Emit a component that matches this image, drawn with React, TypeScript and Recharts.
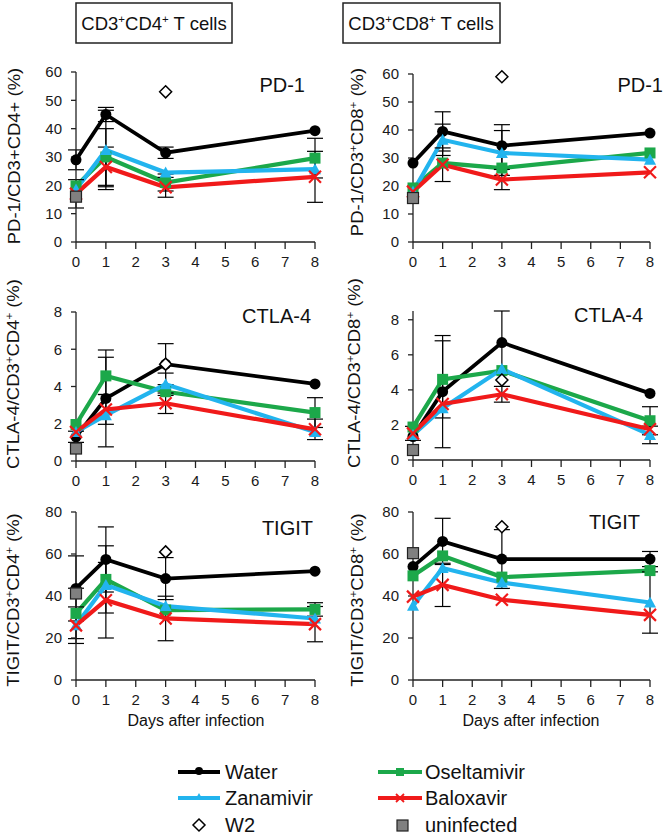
import React from 'react';
import { LineChart, Line, XAxis, YAxis, ErrorBar } from 'recharts';

const FONT = '"Liberation Sans", Arial, sans-serif';

const DAYS = [0, 1, 3, 8];
const DAY_TICKS = [0, 1, 2, 3, 4, 5, 6, 7, 8];

// PD-1 / CD4
const pd1Cd4Water = [29, 45, 31.5, 39.3];
const pd1Cd4WaterSd = [3.5, 2.5, 2, 0];
const pd1Cd4Osel = [19.8, 30, 21, 29.6];
const pd1Cd4OselSd = [0, 10, 3, 7];
const pd1Cd4Zana = [18.5, 32.5, 24.5, 25.7];
const pd1Cd4ZanaSd = [0, 14, 0, 0];
const pd1Cd4Balo = [17, 26.5, 19.3, 23];
const pd1Cd4BaloSd = [5, 7, 3.5, 9];
const pd1Cd4W2 = 53;
const pd1Cd4Uninf = 16;

// PD-1 / CD8
const pd1Cd8Water = [28.2, 39.5, 34.4, 38.9];
const pd1Cd8WaterSd = [0, 7, 7.5, 0];
const pd1Cd8Osel = [19.3, 28.2, 26.4, 31.8];
const pd1Cd8OselSd = [0, 0, 0, 0];
const pd1Cd8Zana = [18, 36.5, 31.8, 29.4];
const pd1Cd8ZanaSd = [0, 5.6, 8, 0];
const pd1Cd8Balo = [18, 27.6, 22.3, 24.9];
const pd1Cd8BaloSd = [0, 6, 3.6, 0];
const pd1Cd8W2 = 59;
const pd1Cd8Uninf = 15.7;

// CTLA-4 / CD4
const ctla4Cd4Water = [1.3, 3.36, 5.2, 4.14];
const ctla4Cd4WaterSd = [0.3, 2.6, 1.1, 0];
const ctla4Cd4Osel = [1.96, 4.57, 3.72, 2.6];
const ctla4Cd4OselSd = [0, 1.0, 0, 0.8];
const ctla4Cd4Zana = [1.56, 2.46, 4.12, 1.56];
const ctla4Cd4ZanaSd = [0, 0, 0.6, 0];
const ctla4Cd4Balo = [1.56, 2.77, 3.1, 1.7];
const ctla4Cd4BaloSd = [0, 0.8, 0.55, 0.55];
const ctla4Cd4W2 = 5.2;
const ctla4Cd4Uninf = 0.67;

// CTLA-4 / CD8
const ctla4Cd8Water = [1.34, 3.9, 6.7, 3.8];
const ctla4Cd8WaterSd = [0, 3.2, 1.8, 0];
const ctla4Cd8Osel = [1.88, 4.6, 5.1, 2.24];
const ctla4Cd8OselSd = [0, 2.2, 0, 0.8];
const ctla4Cd8Zana = [1.43, 2.95, 5.19, 1.43];
const ctla4Cd8ZanaSd = [0, 0, 0, 0.5];
const ctla4Cd8Balo = [1.52, 3.2, 3.75, 1.75];
const ctla4Cd8BaloSd = [0.4, 0, 0.45, 0];
const ctla4Cd8W2 = 4.56;
const ctla4Cd8Uninf = 0.57;

// TIGIT / CD4
const tigitCd4Water = [43.6, 57.4, 48.3, 51.8];
const tigitCd4WaterSd = [15.5, 15.5, 10, 0];
const tigitCd4Osel = [31.7, 47.9, 33.3, 33.6];
const tigitCd4OselSd = [12, 16, 0, 3.2];
const tigitCd4Zana = [26.1, 45.2, 35.2, 29.3];
const tigitCd4ZanaSd = [8.7, 0, 0, 0];
const tigitCd4Balo = [26, 38, 29.3, 26.6];
const tigitCd4BaloSd = [0, 18, 10.6, 8.4];
const tigitCd4W2 = 61;
const tigitCd4Uninf = 41.2;

// TIGIT / CD8
const tigitCd8Water = [54, 66, 57.6, 57.6];
const tigitCd8WaterSd = [0, 11, 14, 3.6];
const tigitCd8Osel = [49.6, 59.1, 49, 52.1];
const tigitCd8OselSd = [0, 0, 0, 0];
const tigitCd8Zana = [35.3, 53.3, 46.4, 36.9];
const tigitCd8ZanaSd = [0, 0, 0, 14.6];
const tigitCd8Balo = [39.7, 45.3, 38.2, 31];
const tigitCd8BaloSd = [0, 10.3, 0, 0];
const tigitCd8W2 = 73;
const tigitCd8Uninf = 60.4;

const WATER = '#000000';
const OSEL = '#1ca84a';
const ZANA = '#22b4ee';
const BALO = '#f01a1a';

const PANELS = [
  { box: [76, 315, 72, 242], yMax: 60, yTicks: [0, 10, 20, 30, 40, 50, 60],
    water: pd1Cd4Water, waterSd: pd1Cd4WaterSd, osel: pd1Cd4Osel, oselSd: pd1Cd4OselSd,
    zana: pd1Cd4Zana, zanaSd: pd1Cd4ZanaSd, balo: pd1Cd4Balo, baloSd: pd1Cd4BaloSd, w2: pd1Cd4W2, uninf: pd1Cd4Uninf },
  { box: [413, 650, 74, 242], yMax: 60, yTicks: [0, 10, 20, 30, 40, 50, 60],
    water: pd1Cd8Water, waterSd: pd1Cd8WaterSd, osel: pd1Cd8Osel, oselSd: pd1Cd8OselSd,
    zana: pd1Cd8Zana, zanaSd: pd1Cd8ZanaSd, balo: pd1Cd8Balo, baloSd: pd1Cd8BaloSd, w2: pd1Cd8W2, uninf: pd1Cd8Uninf },
  { box: [76, 315, 312, 461], yMax: 8, yTicks: [0, 2, 4, 6, 8],
    water: ctla4Cd4Water, waterSd: ctla4Cd4WaterSd, osel: ctla4Cd4Osel, oselSd: ctla4Cd4OselSd,
    zana: ctla4Cd4Zana, zanaSd: ctla4Cd4ZanaSd, balo: ctla4Cd4Balo, baloSd: ctla4Cd4BaloSd, w2: ctla4Cd4W2, uninf: ctla4Cd4Uninf },
  { box: [413, 650, 311, 460], yMax: 8, yTicks: [0, 2, 4, 6, 8],
    water: ctla4Cd8Water, waterSd: ctla4Cd8WaterSd, osel: ctla4Cd8Osel, oselSd: ctla4Cd8OselSd,
    zana: ctla4Cd8Zana, zanaSd: ctla4Cd8ZanaSd, balo: ctla4Cd8Balo, baloSd: ctla4Cd8BaloSd, w2: ctla4Cd8W2, uninf: ctla4Cd8Uninf },
  { box: [76, 315, 512, 680], yMax: 80, yTicks: [0, 20, 40, 60, 80],
    water: tigitCd4Water, waterSd: tigitCd4WaterSd, osel: tigitCd4Osel, oselSd: tigitCd4OselSd,
    zana: tigitCd4Zana, zanaSd: tigitCd4ZanaSd, balo: tigitCd4Balo, baloSd: tigitCd4BaloSd, w2: tigitCd4W2, uninf: tigitCd4Uninf },
  { box: [413, 650, 512, 680], yMax: 80, yTicks: [0, 20, 40, 60, 80],
    water: tigitCd8Water, waterSd: tigitCd8WaterSd, osel: tigitCd8Osel, oselSd: tigitCd8OselSd,
    zana: tigitCd8Zana, zanaSd: tigitCd8ZanaSd, balo: tigitCd8Balo, baloSd: tigitCd8BaloSd, w2: tigitCd8W2, uninf: tigitCd8Uninf },
];

// panel titles and y labels (x, y in page coords)
const TITLES = [
  { text: 'PD-1', x: 305, y: 92 },
  { text: 'PD-1', x: 663, y: 92 },
  { text: 'CTLA-4', x: 311, y: 323 },
  { text: 'CTLA-4', x: 643, y: 322 },
  { text: 'TIGIT', x: 313, y: 535 },
  { text: 'TIGIT', x: 640, y: 529 },
];

const Y_LABELS: { x: number; y: number; segs: [string, boolean][] }[] = [
  { x: 20, y: 156, segs: [['PD-1/CD3+CD4+ (%)', false]] },
  { x: 363, y: 152, segs: [['PD-1/CD3', false], ['+', true], ['CD8', false], ['+', true], [' (%)', false]] },
  { x: 19, y: 374, segs: [['CTLA-4/CD3', false], ['+', true], ['CD4', false], ['+', true], [' (%)', false]] },
  { x: 360, y: 373, segs: [['CTLA-4/CD3', false], ['+', true], ['CD8', false], ['+', true], [' (%)', false]] },
  { x: 19, y: 600, segs: [['TIGIT/CD3', false], ['+', true], ['CD4', false], ['+', true], [' (%)', false]] },
  { x: 363, y: 600, segs: [['TIGIT/CD3', false], ['+', true], ['CD8', false], ['+', true], [' (%)', false]] },
];

function rich(segs: [string, boolean][], size: number) {
  let up = false;
  return segs.map(([s, sup], i) => {
    let dy = 0;
    if (sup && !up) dy = -0.38 * size;
    if (!sup && up) dy = 0.38 * size;
    up = sup;
    return (
      <tspan key={i} dy={dy} fontSize={sup ? size * 0.62 : size}>{s}</tspan>
    );
  });
}

const none = (k: any) => <g key={k} />;

const circleDot = (p: any) =>
  p.cy == null ? none(p.index) : <circle key={p.index} cx={p.cx} cy={p.cy} r={5.5} fill={WATER} />;

const squareDot = (p: any) =>
  p.cy == null ? none(p.index) : <rect key={p.index} x={p.cx - 5.5} y={p.cy - 5.5} width={11} height={11} fill={OSEL} />;

const triDot = (p: any) =>
  p.cy == null ? none(p.index) : (
    <polygon key={p.index} points={`${p.cx},${p.cy - 6} ${p.cx - 6},${p.cy + 5} ${p.cx + 6},${p.cy + 5}`} fill={ZANA} />
  );

const crossDot = (p: any) =>
  p.cy == null ? none(p.index) : (
    <g key={p.index} stroke={BALO} strokeWidth={2.2}>
      <line x1={p.cx - 6} y1={p.cy - 6} x2={p.cx + 6} y2={p.cy + 6} />
      <line x1={p.cx - 6} y1={p.cy + 6} x2={p.cx + 6} y2={p.cy - 6} />
    </g>
  );

const diamondDot = (p: any) =>
  p.cy == null ? none(p.index) : (
    <polygon key={p.index} points={`${p.cx},${p.cy - 6} ${p.cx + 6},${p.cy} ${p.cx},${p.cy + 6} ${p.cx - 6},${p.cy}`}
      fill="#fff" stroke="#000" strokeWidth={1.5} />
  );

const greyDot = (p: any) =>
  p.cy == null ? none(p.index) : (
    <rect key={p.index} x={p.cx - 5.5} y={p.cy - 5.5} width={11} height={11} fill="#808080" stroke="#222" strokeWidth={1.2} />
  );

function Panel({ p }: { p: any }) {
  const [l, r, t, b] = p.box;
  const chartLeft = l - 70;
  const chartTop = t - 10;
  const width = r - chartLeft + 16;
  const height = b - chartTop + 30;
  const data = DAYS.map((d, i) => ({
    day: d,
    water: p.water[i], waterSd: p.waterSd[i],
    osel: p.osel[i], oselSd: p.oselSd[i],
    zana: p.zana[i], zanaSd: p.zanaSd[i],
    balo: p.balo[i], baloSd: p.baloSd[i],
    w2: d === 3 ? p.w2 : null,
    uninf: d === 0 ? p.uninf : null,
  }));
  const tick = { fill: '#1a1a1a', fontSize: 15, fontFamily: FONT };
  return (
    <div style={{ position: 'absolute', left: chartLeft, top: chartTop }}>
      <LineChart width={width} height={height} data={data} margin={{ top: 10, right: 16, bottom: 0, left: 0 }}>
        <XAxis dataKey="day" type="number" domain={[0, 8]} ticks={DAY_TICKS} interval={0} height={30}
          tickSize={7} tickMargin={7} stroke="#222" strokeWidth={1.3} tick={tick} />
        <YAxis type="number" domain={[0, p.yMax]} ticks={p.yTicks} interval={0} width={70}
          tickSize={5} tickMargin={9} stroke="#222" strokeWidth={1.3} tick={tick} />
        <Line dataKey="water" stroke={WATER} strokeWidth={3.8} dot={circleDot} activeDot={false} isAnimationActive={false}>
          <ErrorBar dataKey="waterSd" width={8} stroke="#000" strokeWidth={1.2} direction="y" />
        </Line>
        <Line dataKey="osel" stroke={OSEL} strokeWidth={4.2} dot={squareDot} activeDot={false} isAnimationActive={false}>
          <ErrorBar dataKey="oselSd" width={8} stroke="#000" strokeWidth={1.2} direction="y" />
        </Line>
        <Line dataKey="zana" stroke={ZANA} strokeWidth={4.2} dot={triDot} activeDot={false} isAnimationActive={false}>
          <ErrorBar dataKey="zanaSd" width={8} stroke="#000" strokeWidth={1.2} direction="y" />
        </Line>
        <Line dataKey="balo" stroke={BALO} strokeWidth={4.2} dot={crossDot} activeDot={false} isAnimationActive={false}>
          <ErrorBar dataKey="baloSd" width={8} stroke="#000" strokeWidth={1.2} direction="y" />
        </Line>
        <Line dataKey="w2" stroke="none" dot={diamondDot} activeDot={false} isAnimationActive={false} />
        <Line dataKey="uninf" stroke="none" dot={greyDot} activeDot={false} isAnimationActive={false} />
      </LineChart>
    </div>
  );
}

function Overlay() {
  const t = { fontFamily: FONT, fill: '#111' };
  return (
    <svg width={666} height={837} style={{ position: 'absolute', left: 0, top: 0, pointerEvents: 'none' }}>
      <rect x={76} y={3} width={156} height={40} fill="none" stroke="#222" strokeWidth={1.5} />
      <text x={154} y={30} textAnchor="middle" {...t}>
        {rich([['CD3', false], ['+', true], ['CD4', false], ['+', true], [' T cells', false]], 18.5)}
      </text>
      <rect x={343} y={3} width={157} height={40} fill="none" stroke="#222" strokeWidth={1.5} />
      <text x={421} y={30} textAnchor="middle" {...t}>
        {rich([['CD3', false], ['+', true], ['CD8', false], ['+', true], [' T cells', false]], 18.5)}
      </text>

      {TITLES.map((ti, i) => (
        <text key={i} x={ti.x} y={ti.y} textAnchor="end" fontSize={20} {...t}>{ti.text}</text>
      ))}

      {Y_LABELS.map((yl, i) => (
        <text key={i} transform={`translate(${yl.x},${yl.y}) rotate(-90) scale(1.12,1)`} x={0} y={0}
          dy="0.35em" textAnchor="middle" {...t}>
          {rich(yl.segs, 16.5)}
        </text>
      ))}

      <text x={196} y={726} textAnchor="middle" fontSize={16} {...t}>Days after infection</text>
      <text x={531} y={726} textAnchor="middle" fontSize={16} {...t}>Days after infection</text>

      {/* legend */}
      <line x1={178} y1={772} x2={220} y2={772} stroke={WATER} strokeWidth={4} />
      <circle cx={199} cy={771} r={4} fill={WATER} />
      <text x={225} y={779} fontSize={20} {...t}>Water</text>

      <line x1={378} y1={772} x2={422} y2={772} stroke={OSEL} strokeWidth={4} />
      <rect x={396} y={768} width={8} height={8} fill={OSEL} />
      <text x={425} y={779} fontSize={20} {...t}>Oseltamivir</text>

      <line x1={178} y1={798} x2={220} y2={798} stroke={ZANA} strokeWidth={4} />
      <polygon points="199,793 195,800 203,800" fill={ZANA} />
      <text x={225} y={805} fontSize={20} {...t}>Zanamivir</text>

      <line x1={378} y1={798} x2={422} y2={798} stroke={BALO} strokeWidth={4} />
      <g stroke={BALO} strokeWidth={1.8}>
        <line x1={396} y1={794} x2={404} y2={802} />
        <line x1={396} y1={802} x2={404} y2={794} />
      </g>
      <text x={425} y={805} fontSize={20} {...t}>Baloxavir</text>

      <polygon points="199,819 205,825 199,831 193,825" fill="#fff" stroke="#000" strokeWidth={1.5} />
      <text x={225} y={832} fontSize={20} {...t}>W2</text>

      <rect x={397} y={820} width={11} height={11} fill="#808080" stroke="#222" strokeWidth={1.2} />
      <text x={425} y={832} fontSize={20} {...t}>uninfected</text>
    </svg>
  );
}

export default function App() {
  return (
    <div style={{ position: 'absolute', left: 0, top: 0, width: 666, height: 837, background: '#fff', fontFamily: FONT }}>
      {PANELS.map((p, i) => <Panel key={i} p={p} />)}
      <Overlay />
    </div>
  );
}
